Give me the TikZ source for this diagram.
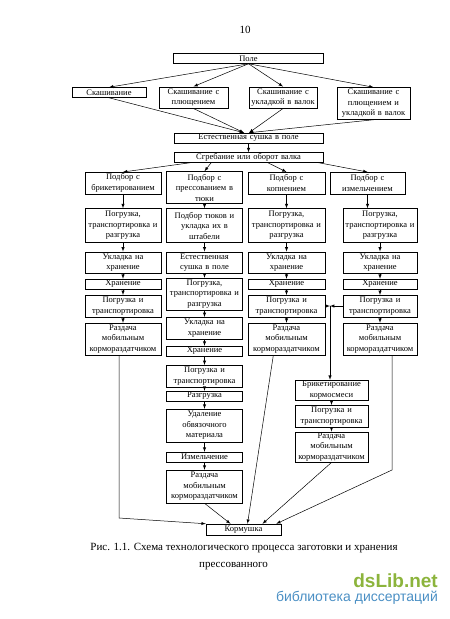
\documentclass[tikz,border=0pt]{standalone}
\usepackage{fontspec}
\setmainfont{Liberation Serif}
\newfontfamily\wmfont{Liberation Sans}
\usepackage{tikz}
\usetikzlibrary{arrows}
\usetikzlibrary{calc}
\definecolor{dsgreen}{HTML}{8CB43C}
\definecolor{dsblue}{HTML}{4A8FC4}

\begin{document}
\begin{tikzpicture}[x=1pt,y=-1pt]
\tikzstyle{box} = [draw, align=center, inner xsep=0.5pt, inner ysep=1pt, line width=0.5pt, font=\fontsize{8.5}{10.5}\selectfont]
\tikzstyle{box1} = [box, minimum height=10pt]
\tikzstyle{box2} = [box, minimum height=21.5pt]
\tikzstyle{box3} = [box, minimum height=32pt]
\tikzstyle{col1} = [text width=75pt]
\tikzstyle{col2} = [text width=75pt]
\tikzstyle{col3} = [text width=76pt]
\tikzstyle{col4} = [text width=73pt]
\tikzstyle{col5} = [text width=72pt]
\tikzstyle{arr} = [-latex, line width=0.5pt]
\useasboundingbox (0,0) rectangle (450,619);

\node(pg) at (245,30) {\fontsize{11}{13}\selectfont 10};

\node(a)[box1, text width=149pt] at (248.5,58.5) {Поле};
\node(b1)[box1, text width=73pt] at (109,92.5) {Скашивание};
\node(b2)[box2, text width=68pt] at (193.5,97.5) {Скашивание с\\плющением};
\node(b3)[box2, text width=67pt] at (283,97.5) {Скашивание с\\укладкой в валок};
\node(b4)[box3, text width=72pt] at (373.5,103.5) {Скашивание с\\плющением и\\укладкой в валок};
\node(c)[box1, text width=148pt] at (248.5,138) {Естественная сушка в поле};
\node(d)[box1, text width=148pt] at (248.5,157.5) {Сгребание или оборот валка};

\node(e1)[box2, col1] at (123,183) {Подбор с\\брикетированием};
\node(e2)[box3, col2] at (204.5,187.5) {Подбор с\\прессованием в\\тюки};
\node(e3)[box2, col3] at (286.5,183) {Подбор с\\копнением};
\node(e4)[box2, text width=74pt] at (367.5,183) {Подбор с\\измельчением};

% column 1
\node(f1)[box3, col1, minimum height=34pt] at (123,225.5) {Погрузка,\\транспортировка и\\разгрузка};
\node(g1)[box2, col1] at (123,262.5) {Укладка на\\хранение};
\node(h1)[box1, col1] at (123,284) {Хранение};
\node(i1)[box2, col1] at (123,306) {Погрузка и\\транспортировка};
\node(j1)[box3, col1] at (123,339) {Раздача\\мобильным\\кормораздатчиком};

% column 2
\node(f2)[box3, col2, minimum height=34pt] at (204.5,225.5) {Подбор тюков и\\укладка их в\\штабели};
\node(g2)[box2, col2] at (204.5,262.5) {Естественная\\сушка в поле};
\node(h2)[box3, col2] at (204.5,294) {Погрузка,\\транспортировка и\\разгрузка};
\node(i2)[box2, col2] at (204.5,328) {Укладка на\\хранение};
\node(j2)[box1, col2] at (204.5,351) {Хранение};
\node(k2)[box2, col2] at (204.5,376) {Погрузка и\\транспортировка};
\node(l2)[box1, col2] at (204.5,396) {Разгрузка};
\node(m2)[box3, col2, minimum height=33pt] at (204.5,425.5) {Удаление\\обвязочного\\материала};
\node(n2)[box1, col2] at (204.5,457) {Измельчение};
\node(o2)[box3, col2, minimum height=33pt] at (204.5,486.5) {Раздача\\мобильным\\кормораздатчиком};

% column 3
\node(f3)[box3, col3, minimum height=34pt] at (286.5,225.5) {Погрузка,\\транспортировка и\\разгрузка};
\node(g3)[box2, col3] at (286.5,262.5) {Укладка на\\хранение};
\node(h3)[box1, col3] at (286.5,284) {Хранение};
\node(i3)[box2, col3] at (286.5,306) {Погрузка и\\транспортировка};
\node(j3)[box3, col3] at (286.5,339) {Раздача\\мобильным\\кормораздатчиком};

% column 4
\node(f4)[box3, col4, minimum height=34pt] at (380,225.5) {Погрузка,\\транспортировка и\\разгрузка};
\node(g4)[box2, col4] at (380,262.5) {Укладка на\\хранение};
\node(h4)[box1, col4] at (380,284) {Хранение};
\node(i4)[box2, col4] at (380,306) {Погрузка и\\транспортировка};
\node(j4)[box3, col4] at (380,339) {Раздача\\мобильным\\кормораздатчиком};

% briquetting branch
\node(p)[box2, col5, minimum height=20pt] at (331.5,390) {Брикетирование\\кормосмеси};
\node(q)[box2, col5] at (331.5,416) {Погрузка и\\транспортировка};
\node(r)[box3, col5, minimum height=30pt] at (331.5,447) {Раздача\\мобильным\\кормораздатчиком};

\node(s)[box1, text width=74pt, minimum height=11pt] at (243.5,529.5) {Кормушка};

\draw[arr] (a.south) -- (b1.north);
\draw[arr] (a.south) -- (b2.north);
\draw[arr] (a.south) -- (b3.north);
\draw[arr] (a.south) -- (b4.north);
\coordinate(cl) at ($(c.north)+(-4.5,0)$);
\coordinate(cr) at ($(c.north)+(0.5,0)$);
\draw[arr] (b1.south) -- (cl);
\draw[arr] (b2.south) -- (cl);
\draw[arr] (b3.south) -- (cr);
\draw[arr] (b4.south) -- (cr);
\draw[arr] (c) -- (d);
\draw[arr] ($(d.south west)!0.11!(d.south east)$) -- (e1.north);
\draw[arr] ($(d.south west)!0.25!(d.south east)$) -- (e2.north);
\draw[arr] ($(d.south west)!0.63!(d.south east)$) -- (e3.north);
\draw[arr] ($(d.south west)!0.97!(d.south east)$) -- (e4.north);
\draw[arr] (e1) -- (f1);
\draw[arr] (e2) -- (f2);
\draw[arr] (e3) -- (f3);
\draw[arr] (e4.south) -- (e4.south |- f4.north);

\draw[arr] (f1) -- (g1);
\draw[arr] (g1) -- (h1);
\draw[arr] (h1) -- (i1);
\draw[arr] (i1) -- (j1);
\draw[arr] (f2) -- (g2);
\draw[arr] (g2) -- (h2);
\draw[arr] (h2) -- (i2);
\draw[arr] (i2) -- (j2);
\draw[arr] (j2) -- (k2);
\draw[arr] (k2) -- (l2);
\draw[arr] (l2) -- (m2);
\draw[arr] (m2) -- (n2);
\draw[arr] (n2) -- (o2);
\draw[arr] (f3) -- (g3);
\draw[arr] (g3) -- (h3);
\draw[arr] (h3) -- (i3);
\draw[arr] (i3) -- (j3);
\draw[arr] (f4) -- (g4);
\draw[arr] (g4) -- (h4);
\draw[arr] (h4) -- (i4);
\draw[arr] (i4) -- (j4);

\coordinate(jn) at (330,306);
\draw[arr] (i3.east) -- (jn);
\draw[arr] (i4.west) -- (jn);
\draw[arr] (jn) -- (jn |- p.north);
\draw[arr] (p) -- (q);
\draw[arr] (q) -- (r);

\coordinate(k1) at (119,518);
\coordinate(k4) at (392,470);
\draw[arr] (k1 |- j1.south) -- (k1) -- (s.north west);
\draw[arr] (o2.south) -- ($(s.north)+(-13,0)$);
\draw[arr] ($(j3.south west)!0.33!(j3.south east)$) -- ($(s.north)+(4,0)$);
\draw[arr] (r.south) -- ($(s.north)+(19,0)$);
\draw[arr] (k4 |- j4.south) -- (k4) -- ($(s.north east)+(-5,0)$);

\node(cap) at (244,548) {\fontsize{11}{13}\selectfont Рис. 1.1. Схема технологического процесса заготовки и хранения};
\node(cap2)[anchor=west, inner sep=0pt] at (199,566) {\fontsize{11}{13}\selectfont прессованного};

\node(wm1)[anchor=east, inner sep=0pt, text=dsgreen, font=\wmfont\bfseries\fontsize{19}{20}\selectfont] at (438,581) {dsLib.net};
\node(wm2)[anchor=east, inner sep=0pt, text=dsblue, font=\wmfont\fontsize{14}{15}\selectfont] at (438,598) {библиотека диссертаций};
\end{tikzpicture}
\end{document}
